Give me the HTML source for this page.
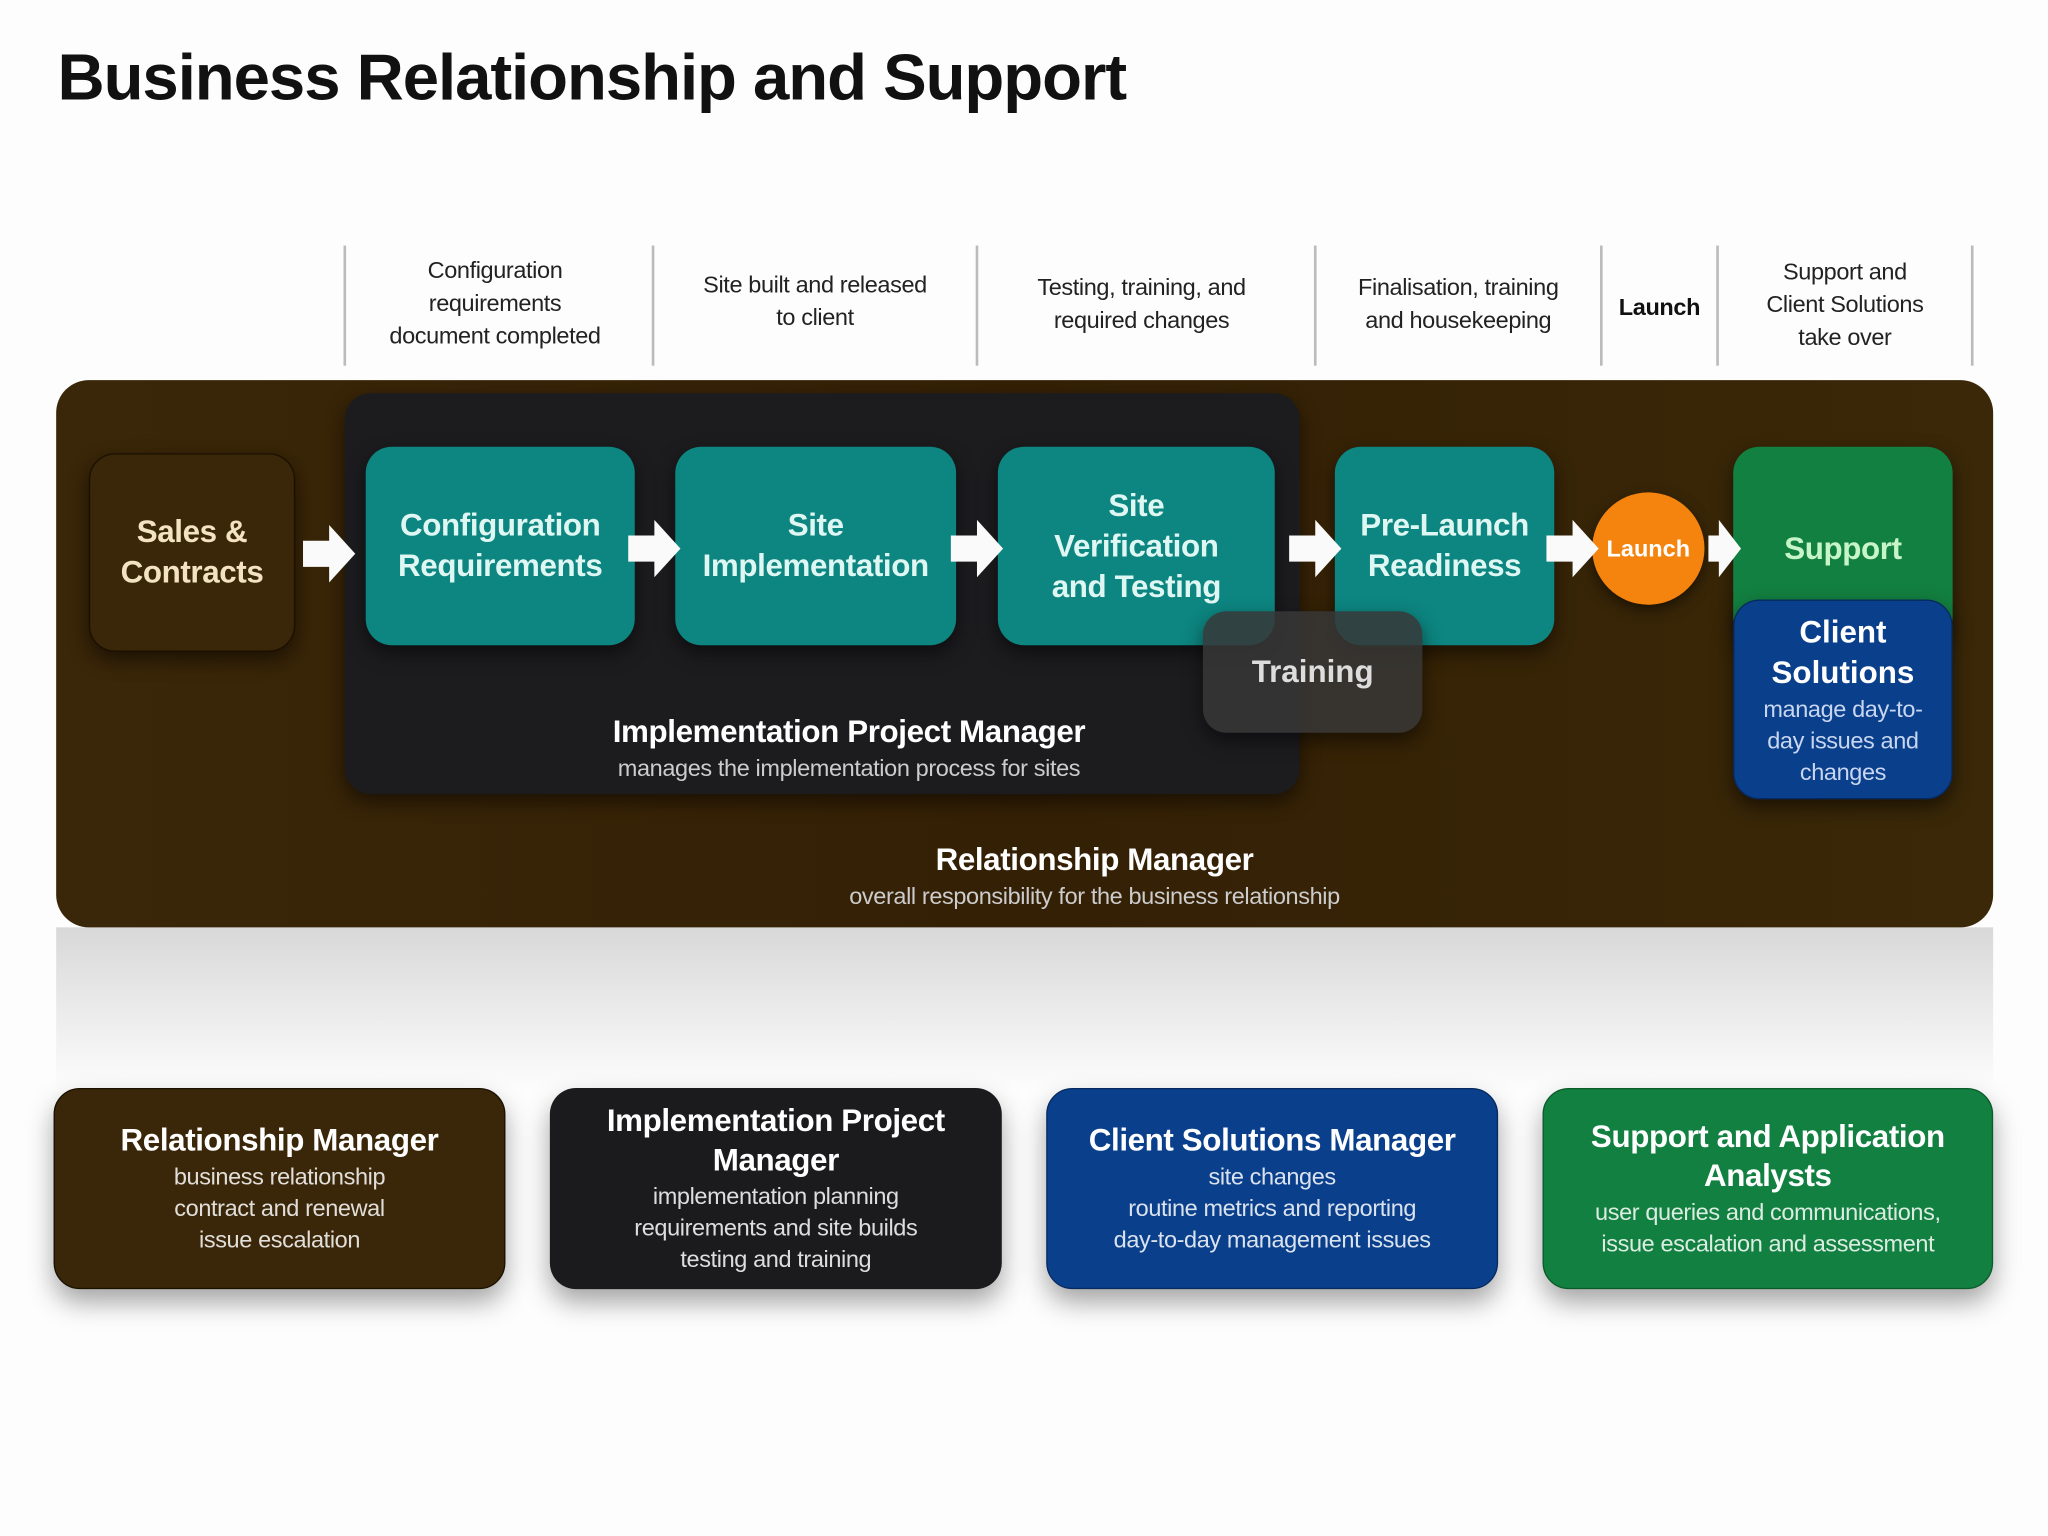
<!DOCTYPE html>
<html><head><meta charset="utf-8"><style>
html,body{margin:0;padding:0;background:#fff;width:2048px;height:1536px;overflow:hidden}
#s{position:absolute;left:0;top:0;width:1568px;height:1176px;transform:scale(1.30612);transform-origin:0 0;font-family:"Liberation Sans",sans-serif;background:#fdfdfd}
.a{position:absolute}
.c{display:flex;flex-direction:column;align-items:center;justify-content:center;text-align:center}
.h{font-size:18px;color:#222;line-height:25px;letter-spacing:-0.3px}
.sep{position:absolute;top:188px;height:92px;width:2px;background:#bbb}
.box{border-radius:20px;box-shadow:0 6px 14px rgba(0,0,0,.5)}
.t{color:#dff7f3;font-weight:bold;font-size:24px;line-height:31px;letter-spacing:-0.3px}
.card{position:absolute;top:833px;width:346px;height:154px;box-sizing:border-box;border-radius:20px;box-shadow:0 10px 20px rgba(0,0,0,.35);color:#fff;display:flex;flex-direction:column;align-items:center;justify-content:center;text-align:center;letter-spacing:-0.3px}
.card b{font-size:24px;line-height:30px}
.card span{font-size:18px;line-height:24px;opacity:.85}
</style></head><body><div id="s">
<div class="a" style="left:44px;top:30px;font-size:50px;font-weight:bold;color:#111;letter-spacing:-0.8px">Business Relationship and Support</div>

<div class="sep" style="left:263px"></div><div class="sep" style="left:499px"></div><div class="sep" style="left:747px"></div><div class="sep" style="left:1006px"></div><div class="sep" style="left:1225px"></div><div class="sep" style="left:1314px"></div><div class="sep" style="left:1509px"></div>
<div class="a c h" style="left:265px;top:188px;width:228px;height:88px">Configuration<br>requirements<br>document completed</div>
<div class="a c h" style="left:501px;top:188px;width:246px;height:86px">Site built and released<br>to client</div>
<div class="a c h" style="left:749px;top:190px;width:250px;height:86px">Testing, training, and<br>required changes</div>
<div class="a c h" style="left:1008px;top:190px;width:217px;height:86px">Finalisation, training<br>and housekeeping</div>
<div class="a c h" style="left:1227px;top:190px;width:87px;height:90px;font-weight:bold;color:#111">Launch</div>
<div class="a c h" style="left:1316px;top:190px;width:193px;height:86px">Support and<br>Client Solutions<br>take over</div>

<div class="a" style="left:43px;top:710px;width:1483px;height:125px;background:linear-gradient(#d8d8d8,rgba(255,255,255,0))"></div>
<div class="a" style="left:43px;top:291px;width:1483px;height:419px;border-radius:25px;background:linear-gradient(90deg,#3a2608,#342005 50%,#3a2808)"></div>
<div class="a box" style="left:264px;top:301px;width:731px;height:307px;background:#1c1c1f"></div>
<div class="a c" style="left:264px;top:540px;width:772px;height:66px"><div style="color:#fff;font-weight:bold;font-size:24px;line-height:30px;letter-spacing:-0.3px">Implementation Project Manager</div><div style="color:#ccc;font-size:18px;line-height:24px;letter-spacing:-0.3px">manages the implementation process for sites</div></div>
<div class="a c" style="left:43px;top:638px;width:1590px;height:66px"><div style="color:#fff;font-weight:bold;font-size:24px;line-height:30px;letter-spacing:-0.3px">Relationship Manager</div><div style="color:#ccc;font-size:18px;line-height:24px;letter-spacing:-0.3px">overall responsibility for the business relationship</div></div>

<div class="a c box t" style="left:68px;top:347px;width:158px;height:152px;background:#3a2608;border:1px solid #1a1000;color:#f3e3c3;box-sizing:border-box">Sales &amp;<br>Contracts</div>
<div class="a c box t" style="left:280px;top:342px;width:206px;height:152px;background:#0d8580">Configuration<br>Requirements</div>
<div class="a c box t" style="left:517px;top:342px;width:215px;height:152px;background:#0d8580">Site<br>Implementation</div>
<div class="a c box t" style="left:764px;top:342px;width:212px;height:152px;background:#0d8580">Site<br>Verification<br>and Testing</div>
<div class="a c box t" style="left:1022px;top:342px;width:168px;height:152px;background:#0d8580">Pre-Launch<br>Readiness</div>
<div class="a c box" style="left:921px;top:468px;width:168px;height:93px;background:rgba(55,55,55,.85);color:#ddd;font-weight:bold;font-size:24px;border-radius:18px">Training</div>
<div class="a c" style="left:1219px;top:377px;width:86px;height:86px;border-radius:50%;background:#f5840f;color:#fff;font-weight:bold;font-size:18px;box-shadow:0 4px 10px rgba(0,0,0,.5)">Launch</div>
<div class="a box" style="left:1327px;top:342px;width:168px;height:150px;background:#128040"></div>
<div class="a c t" style="left:1327px;top:400px;width:168px;height:40px;color:#c8f5c8">Support</div>
<div class="a c box" style="left:1327px;top:459px;width:168px;height:153px;background:#0a3f8c;border:1px solid #062a60;box-sizing:border-box"><div style="color:#fff;font-weight:bold;font-size:24px;line-height:31px">Client<br>Solutions</div><div style="color:#c8d6f0;font-size:18px;line-height:24px;letter-spacing:-0.3px">manage day-to-<br>day issues and<br>changes</div></div>

<svg class="a" style="left:0;top:0" width="1568" height="800">
<g fill="#fafafa">
<polygon points="232,414 252,414 252,402 272,424 252,446 252,434 232,434"/>
<polygon points="481,410 501,410 501,398 521,420 501,442 501,430 481,430"/>
<polygon points="728,410 748,410 748,398 768,420 748,442 748,430 728,430"/>
<polygon points="987,410 1007,410 1007,398 1027,420 1007,442 1007,430 987,430"/>
<polygon points="1184,410 1204,410 1204,398 1224,420 1204,442 1204,430 1184,430"/>
<polygon points="1308,410 1316,410 1316,398 1333,420 1316,442 1316,430 1308,430"/>
</g></svg>

<div class="card" style="left:41px;background:#3a2608;border:1px solid #1a1000"><b>Relationship Manager</b><span>business relationship<br>contract and renewal<br>issue escalation</span></div>
<div class="card" style="left:421px;background:#1b1b1e"><b>Implementation Project<br>Manager</b><span>implementation planning<br>requirements and site builds<br>testing and training</span></div>
<div class="card" style="left:801px;background:#0a3f8c;border:1px solid #062a60"><b>Client Solutions Manager</b><span>site changes<br>routine metrics and reporting<br>day-to-day management issues</span></div>
<div class="card" style="left:1181px;width:345px;background:#128040;border:1px solid #0a5a2a"><b>Support and Application<br>Analysts</b><span>user queries and communications,<br>issue escalation and assessment</span></div>
</div></body></html>
